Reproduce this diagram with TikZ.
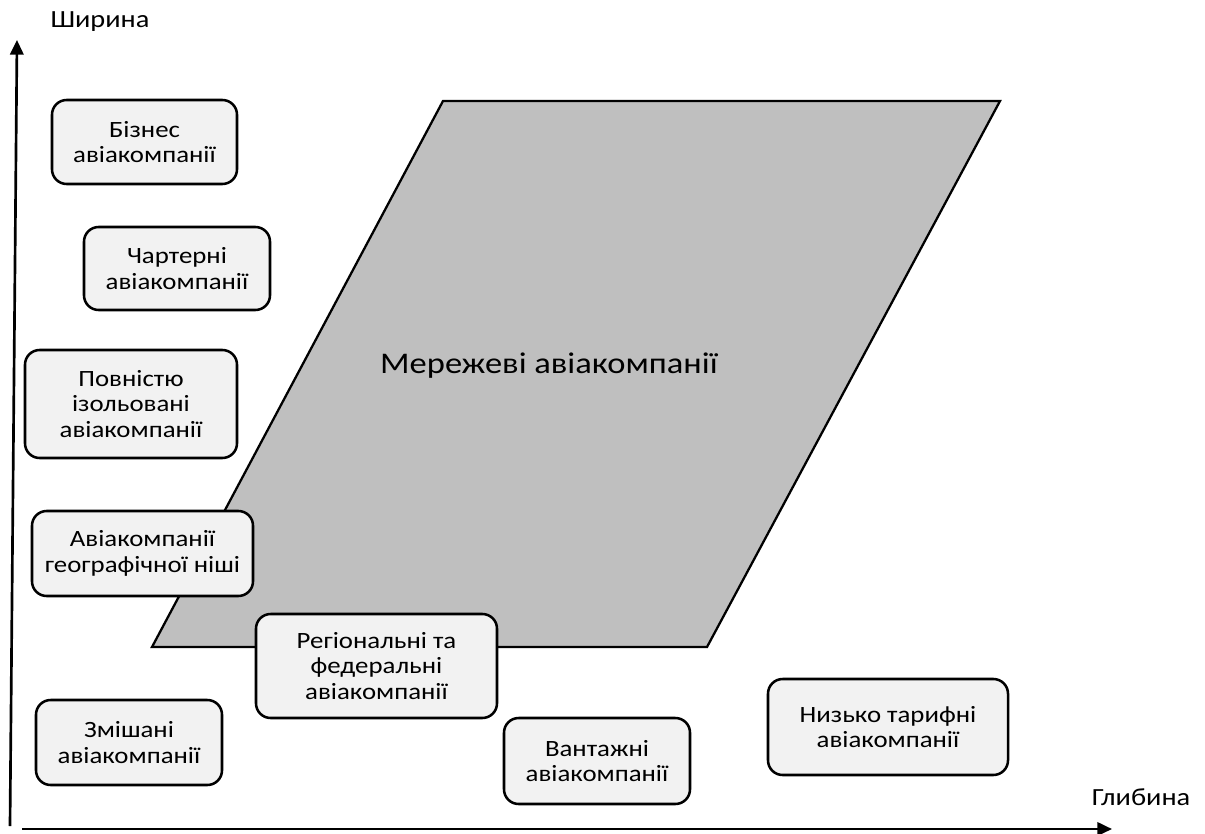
\documentclass[tikz,border=0pt]{standalone}
\usepackage{fontspec}
\setmainfont{Carlito}[FakeStretch=1.15]
\usepackage{xcolor}
\usetikzlibrary{arrows.meta, positioning}

\definecolor{boxfill}{HTML}{F2F2F2}
\definecolor{netfill}{HTML}{BFBFBF}

\begin{document}
\begin{tikzpicture}[
    x=0.75pt, y=-0.75pt,
    >={Triangle[length=11pt, width=10pt]},
    every node/.style={font=\fontsize{17.5}{19.2}\selectfont},
    airline/.style={
        draw,
        line width=1.9pt,
        fill=boxfill,
        rounded corners=11pt,
        align=center,
        inner sep=0pt
    },
    axis label/.style={
        font=\fontsize{18.5}{22}\selectfont,
        inner sep=0pt
    }
]
\useasboundingbox (0,0) rectangle (1205,834);

% Axes
\coordinate (ybase) at (10,826);
\coordinate (ytip)  at (17,40);
\coordinate (xbase) at (22,829);
\coordinate (xtip)  at (1112,829);
\draw[->, line width=2pt] (ybase) -- (ytip);
\draw[->, line width=2pt] (xbase) -- (xtip);
\node[axis label] (width)  at (100,22)  {Ширина};
\node[axis label] (depth)  at (1141,797) {Глибина};

% Network carriers (parallelogram)
\draw[line width=1.7pt, fill=netfill]
    (152,647) -- (443,101) -- (1000,101) -- (707,647) -- cycle;
\node[font=\fontsize{22.5}{26}\selectfont, anchor=base east, inner sep=0pt]
    (network) at (718,373) {Мережеві авіакомпанії};

% Airline types
\node[airline, minimum width=138.75pt, minimum height=63pt]
    (business) at (144.5,142) {Бізнес\\авіакомпанії};
\node[airline, minimum width=139.5pt, minimum height=62.25pt]
    (charter) at (177,268.5) {Чартерні\\авіакомпанії};
\node[airline, minimum width=159pt, minimum height=81pt]
    (isolated) at (131,404) {Повністю\\ізольовані\\авіакомпанії};
\node[airline, minimum width=165.75pt, minimum height=63.75pt]
    (niche) at (142.5,553.5) {Авіакомпанії\\географічної ніші};
\node[airline, minimum width=180.75pt, minimum height=78pt]
    (regional) at (376.5,666) {Регіональні та\\федеральні\\авіакомпанії};
\node[airline, minimum width=139.5pt, minimum height=63.75pt]
    (mixed) at (129,742.5) {Змішані\\авіакомпанії};
\node[airline, minimum width=139.5pt, minimum height=64.5pt]
    (cargo) at (597,761) {Вантажні\\авіакомпанії};
\node[airline, minimum width=180pt, minimum height=72pt]
    (lowcost) at (888,727) {Низько тарифні\\авіакомпанії};

\end{tikzpicture}
\end{document}
